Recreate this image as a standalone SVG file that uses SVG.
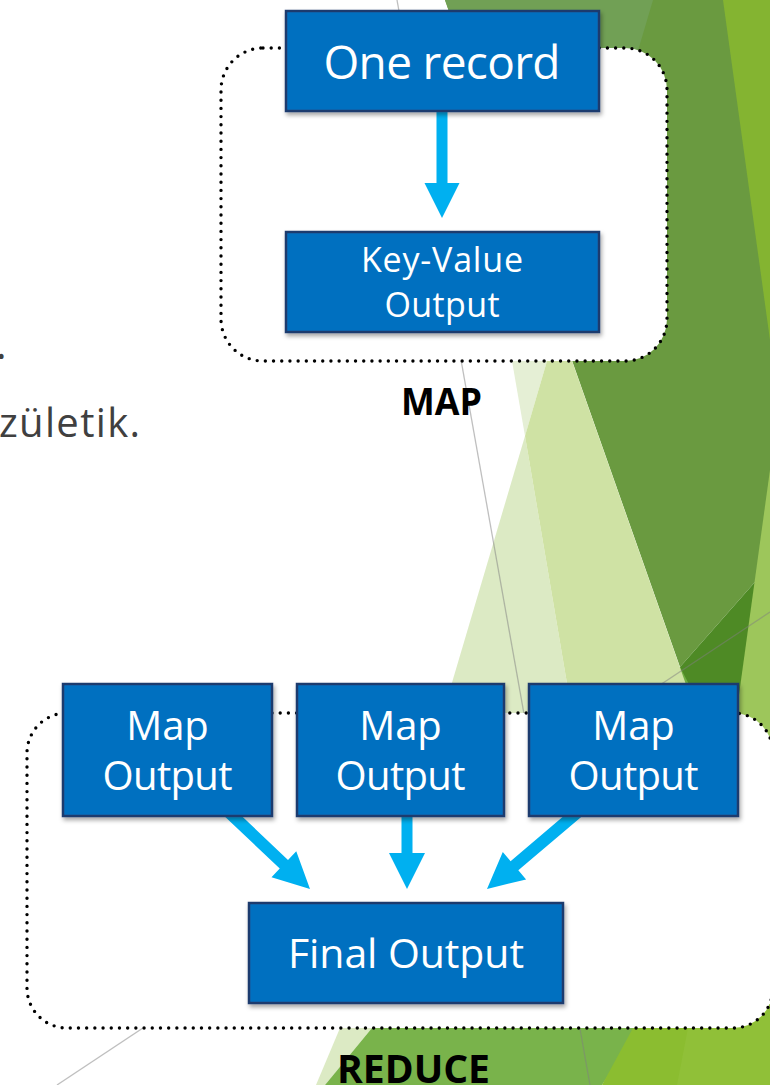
<svg xmlns="http://www.w3.org/2000/svg" width="770" height="1085" viewBox="0 0 770 1085">
<defs>
<filter id="sh" x="-10%" y="-10%" width="130%" height="140%">
<feDropShadow dx="1.5" dy="3" stdDeviation="2" flood-color="#000" flood-opacity="0.35"/>
</filter>
</defs>
<style>
.box{fill:#0070C0;stroke:#1F3A6E;stroke-width:2.5;filter:url(#sh)}
.bt{font-family:"Open Sans","DejaVu Sans",sans-serif;fill:#fff;text-anchor:middle}
.grp{fill:#fff;stroke:#000;stroke-width:3.4;stroke-dasharray:0 8.2;stroke-linecap:round}
.arr{fill:#00B0F0}
.lbl{font-family:"Open Sans","DejaVu Sans",sans-serif;font-weight:700;fill:#000;text-anchor:middle}
.gl{stroke:#808080;stroke-opacity:.5;stroke-width:1.3;fill:none}
.body{font-family:"Open Sans","DejaVu Sans",sans-serif;fill:#404040}
</style>
<rect width="770" height="1085" fill="#fff"/>
<g id="background">
<polygon points="445,0 770,0 770,565 680,667" fill="#6A9A40"/>
<polygon points="445,0 653,0 558,321" fill="#71A055"/>
<polygon points="723,0 770,0 770,340" fill="#84B431"/>
<polygon points="680,667 770,565 770,760 690,760" fill="#4E8A25"/>
<polygon points="655,684 680,667 692,690" fill="#71AE44"/>
<polygon points="770,470 770,760 730,760" fill="#9DC65B"/>
<polygon points="512,361 547,361 525,436" fill="#E5EFD5"/>
<polygon points="525,436 572,713 443,713" fill="#DCEAC4"/>
<polygon points="547,361 572,361 696,713 572,713 525,436" fill="#CFE2A4"/>
<polygon points="340,1028 372,1028 325,1085 316,1085" fill="#DCEAC4"/>
<polygon points="372,1028 640,1028 602,1085 325,1085" fill="#79B34B"/>
<polygon points="660,900 770,900 770,1085 602,1085 633,1028" fill="#8BBD30"/>
<polygon points="690,900 770,900 770,1085 677,1085 688,1028" fill="#90C038"/>
<line class="gl" x1="397" y1="0" x2="590" y2="1085"/>
<line class="gl" x1="57" y1="1085" x2="770" y2="612"/>
</g>
<g id="body-text">
<text class="body" x="-4" y="359" font-size="40">.</text>
<text class="body" x="-1" y="437" font-size="40" textLength="141" lengthAdjust="spacing">zületik.</text>
</g>
<g id="map-group">
<rect class="grp" x="221" y="48" width="446" height="313" rx="42"/>
<text class="lbl" x="441.5" y="415" font-size="38" textLength="81" lengthAdjust="spacingAndGlyphs">MAP</text>
</g>
<g id="reduce-group">
<rect class="grp" x="27" y="713" width="746" height="315" rx="40"/>
<text class="lbl" x="413.5" y="1083" font-size="40" textLength="153" lengthAdjust="spacingAndGlyphs">REDUCE</text>
</g>
<g id="connectors">
<path class="arr" transform="translate(442,218) rotate(90)" d="M-115,-5.5H-35V-17.5L0,0L-35,17.5V5.5H-115Z"/>
<path class="arr" transform="translate(310,889) rotate(43.47)" d="M-114,-6H-36V-18L0,0L-36,18V6H-114Z"/>
<path class="arr" transform="translate(407,889) rotate(90)" d="M-81,-5.5H-36V-18L0,0L-36,18V5.5H-81Z"/>
<path class="arr" transform="translate(487,889) rotate(139.67)" d="M-120,-6H-36V-18L0,0L-36,18V6H-120Z"/>
</g>
<g id="one-record">
<rect class="box" x="286" y="11" width="313" height="100"/>
<text class="bt" x="442" y="79" font-size="46" textLength="237" lengthAdjust="spacing">One record</text>
</g>
<g id="key-value-output">
<rect class="box" x="286" y="232" width="313" height="100"/>
<text class="bt" x="442" y="272" font-size="34" textLength="162" lengthAdjust="spacing">Key-Value</text>
<text class="bt" x="442" y="317" font-size="34" textLength="115" lengthAdjust="spacing">Output</text>
</g>
<g id="map-output-1">
<rect class="box" x="63" y="684" width="209" height="132"/>
<text class="bt" x="167.5" y="740" font-size="40">Map</text>
<text class="bt" x="167.5" y="790" font-size="40" textLength="130" lengthAdjust="spacing">Output</text>
</g>
<g id="map-output-2">
<rect class="box" x="297" y="684" width="207" height="132"/>
<text class="bt" x="400.5" y="740" font-size="40">Map</text>
<text class="bt" x="400.5" y="790" font-size="40" textLength="130" lengthAdjust="spacing">Output</text>
</g>
<g id="map-output-3">
<rect class="box" x="529" y="684" width="209" height="132"/>
<text class="bt" x="633.5" y="740" font-size="40">Map</text>
<text class="bt" x="633.5" y="790" font-size="40" textLength="130" lengthAdjust="spacing">Output</text>
</g>
<g id="final-output">
<rect class="box" x="249" y="903" width="314" height="100"/>
<text class="bt" x="406" y="968" font-size="41" textLength="236" lengthAdjust="spacing">Final Output</text>
</g>
</svg>
